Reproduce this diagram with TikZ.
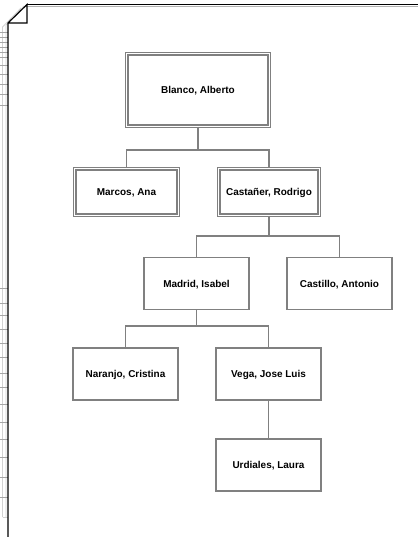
\documentclass[tikz,border=0pt]{standalone}
\usepackage{fontspec}
\setmainfont{Liberation Sans}
\begin{document}
\begin{tikzpicture}[x=1bp,y=-1bp,
  box/.style={draw=gray, line width=1.3bp, fill=white, minimum width=105bp, minimum height=52bp, inner sep=0pt, text depth=0pt, font=\bfseries\fontsize{10}{12}\selectfont, text=black},
  dbox/.style={box, double=white, double distance=1.4bp, line width=1.1bp},
  conn/.style={draw=gray, line width=1.1bp},
  pagefold/.style={draw=gray!35, line width=0.8bp},
  tick/.style={draw=gray!70, line width=0.9bp}
]
\useasboundingbox (0,0) rectangle (418,537);
% stacked pages / binding
\draw[pagefold] (2.5,517) -- (2.5,27) -- (21,8);
\draw[pagefold] (6,517) -- (6,25) -- (24,6);
\draw[pagefold] (2.5,517) -- (8,517);
\foreach \yy in {32,37,42,47,52,57,65,74,84,94,105,288,303,315,329,343,357,373,387,404,422,439,457,477,497}
  \draw[tick] (0.5,\yy) -- (8,\yy);
% page outline with dog-ear
\draw[gray!60, line width=0.8bp] (27,6) -- (418,6);
\draw[black, line width=1.2bp] (27,4.5) -- (418,4.5);
\draw[black, line width=1.2bp] (8,537) -- (8,23) -- (27,4.5) -- (27,23) -- (8,23);

% nodes
\node[dbox, minimum width=142.5bp, minimum height=72.5bp] (blanco) at (198,90) {Blanco, Alberto};
\node[dbox, minimum width=103.5bp, minimum height=46.5bp] (marcos) at (126.5,192) {Marcos, Ana};
\node[dbox, minimum width=100.5bp, minimum height=46.5bp] (castaner) at (269,192) {Castañer, Rodrigo};
\node[box] (madrid) at (196.5,283.5) {Madrid, Isabel};
\node[box] (castillo) at (339.5,283.5) {Castillo, Antonio};
\node[box] (naranjo) at (125.5,374) {Naranjo, Cristina};
\node[box] (vega) at (268.5,374) {Vega, Jose Luis};
\node[box] (urdiales) at (268.5,465) {Urdiales, Laura};

% connectors
\coordinate (b1) at (198,150);
\coordinate (b2) at (269,236);
\coordinate (b3) at (196.5,326);
\draw[conn] (blanco.south) -- (blanco.south |- b1) -| (marcos.north);
\draw[conn] (blanco.south |- b1) -| (castaner.north);
\draw[conn] (castaner.south) -- (castaner.south |- b2) -| (madrid.north);
\draw[conn] (castaner.south |- b2) -| (castillo.north);
\draw[conn] (madrid.south) -- (madrid.south |- b3) -| (naranjo.north);
\draw[conn] (madrid.south |- b3) -| (vega.north);
\draw[conn] (vega.south) -- (urdiales.north);
\end{tikzpicture}
\end{document}
